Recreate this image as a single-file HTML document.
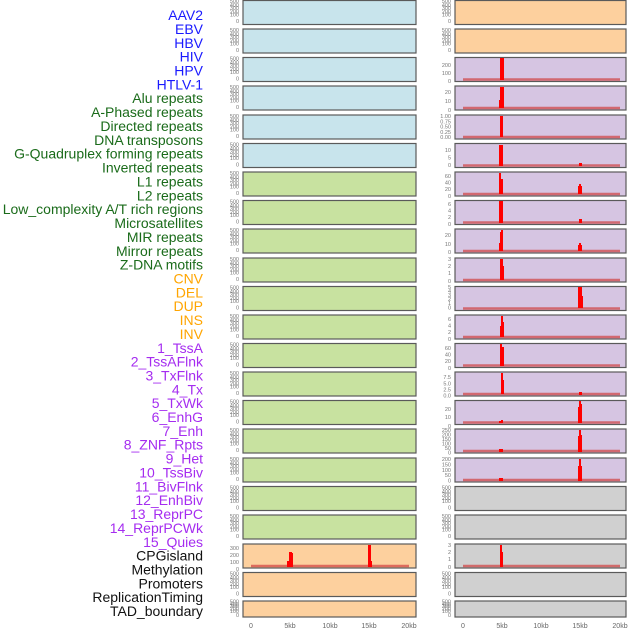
<!DOCTYPE html>
<html><head><meta charset="utf-8"><style>
html,body{margin:0;padding:0;background:#fff}
svg{display:block}
.l{font-family:"Liberation Sans",sans-serif;font-size:14px;text-anchor:end}
.t{font-family:"Liberation Sans",sans-serif;font-size:5.5px;fill:#777;text-anchor:end}
.x{font-family:"Liberation Sans",sans-serif;font-size:7px;fill:#666;text-anchor:middle}
.p{stroke:#5a5a5a;stroke-width:1.2}
.b{fill:#c8e4ec}.g{fill:#c8e2a0}.o{fill:#fdd09e}.u{fill:#d6c5e2}.y{fill:#d0d0d0}
.z{stroke:#d04040;stroke-opacity:.7;stroke-width:2.5}
.s{fill:#ff0000}
</style></head><body>
<svg width="630" height="630" viewBox="0 0 630 630" xmlns="http://www.w3.org/2000/svg">
<g class="l" transform="matrix(1,0,0,1.005,0,0)">
<text x="203" y="20" fill="#1a1aff">AAV2</text>
<text x="203" y="33.8" fill="#1a1aff">EBV</text>
<text x="203" y="47.6" fill="#1a1aff">HBV</text>
<text x="203" y="61.4" fill="#1a1aff">HIV</text>
<text x="203" y="75.2" fill="#1a1aff">HPV</text>
<text x="203" y="89" fill="#1a1aff">HTLV-1</text>
<text x="203" y="102.7" fill="#1a6b1a">Alu repeats</text>
<text x="203" y="116.5" fill="#1a6b1a">A-Phased repeats</text>
<text x="203" y="130.3" fill="#1a6b1a">Directed repeats</text>
<text x="203" y="144.1" fill="#1a6b1a">DNA transposons</text>
<text x="203" y="157.9" fill="#1a6b1a">G-Quadruplex forming repeats</text>
<text x="203" y="171.7" fill="#1a6b1a">Inverted repeats</text>
<text x="203" y="185.5" fill="#1a6b1a">L1 repeats</text>
<text x="203" y="199.3" fill="#1a6b1a">L2 repeats</text>
<text x="203" y="213.1" fill="#1a6b1a">Low_complexity A/T rich regions</text>
<text x="203" y="226.9" fill="#1a6b1a">Microsatellites</text>
<text x="203" y="240.7" fill="#1a6b1a">MIR repeats</text>
<text x="203" y="254.5" fill="#1a6b1a">Mirror repeats</text>
<text x="203" y="268.2" fill="#1a6b1a">Z-DNA motifs</text>
<text x="203" y="282" fill="#ffa500">CNV</text>
<text x="203" y="295.8" fill="#ffa500">DEL</text>
<text x="203" y="309.6" fill="#ffa500">DUP</text>
<text x="203" y="323.4" fill="#ffa500">INS</text>
<text x="203" y="337.2" fill="#ffa500">INV</text>
<text x="203" y="351" fill="#a52cf0">1_TssA</text>
<text x="203" y="364.8" fill="#a52cf0">2_TssAFlnk</text>
<text x="203" y="378.6" fill="#a52cf0">3_TxFlnk</text>
<text x="203" y="392.4" fill="#a52cf0">4_Tx</text>
<text x="203" y="406.2" fill="#a52cf0">5_TxWk</text>
<text x="203" y="420" fill="#a52cf0">6_EnhG</text>
<text x="203" y="433.7" fill="#a52cf0">7_Enh</text>
<text x="203" y="447.5" fill="#a52cf0">8_ZNF_Rpts</text>
<text x="203" y="461.3" fill="#a52cf0">9_Het</text>
<text x="203" y="475.1" fill="#a52cf0">10_TssBiv</text>
<text x="203" y="488.9" fill="#a52cf0">11_BivFlnk</text>
<text x="203" y="502.7" fill="#a52cf0">12_EnhBiv</text>
<text x="203" y="516.5" fill="#a52cf0">13_ReprPC</text>
<text x="203" y="530.3" fill="#a52cf0">14_ReprPCWk</text>
<text x="203" y="544.1" fill="#a52cf0">15_Quies</text>
<text x="203" y="557.9" fill="#111">CPGisland</text>
<text x="203" y="571.7" fill="#111">Methylation</text>
<text x="203" y="585.4" fill="#111">Promoters</text>
<text x="203" y="599.2" fill="#111">ReplicationTiming</text>
<text x="203" y="613" fill="#111">TAD_boundary</text>
</g>

<g class="p">
<rect class="b" x="243" y="0.5" width="173" height="24"/>
<rect class="b" x="243" y="29" width="173" height="24"/>
<rect class="b" x="243" y="57.5" width="173" height="24"/>
<rect class="b" x="243" y="86" width="173" height="24"/>
<rect class="b" x="243" y="115" width="173" height="24"/>
<rect class="b" x="243" y="143.5" width="173" height="24"/>
<rect class="g" x="243" y="172" width="173" height="24"/>
<rect class="g" x="243" y="200.5" width="173" height="24"/>
<rect class="g" x="243" y="229" width="173" height="24"/>
<rect class="g" x="243" y="258" width="173" height="24"/>
<rect class="g" x="243" y="286.5" width="173" height="24"/>
<rect class="g" x="243" y="315" width="173" height="24"/>
<rect class="g" x="243" y="343.5" width="173" height="24"/>
<rect class="g" x="243" y="372" width="173" height="24"/>
<rect class="g" x="243" y="400.5" width="173" height="24"/>
<rect class="g" x="243" y="429" width="173" height="24"/>
<rect class="g" x="243" y="458" width="173" height="24"/>
<rect class="g" x="243" y="486.5" width="173" height="24"/>
<rect class="g" x="243" y="515" width="173" height="24"/>
<rect class="o" x="243" y="544" width="173" height="24"/>
<rect class="o" x="243" y="572.5" width="173" height="24"/>
<rect class="o" x="243" y="601" width="173" height="16"/>
</g>
<g class="p">
<rect class="o" x="455" y="0.5" width="171" height="24"/>
<rect class="o" x="455" y="29" width="171" height="24"/>
<rect class="u" x="455" y="57.5" width="171" height="24"/>
<rect class="u" x="455" y="86" width="171" height="24"/>
<rect class="u" x="455" y="115" width="171" height="24"/>
<rect class="u" x="455" y="143.5" width="171" height="24"/>
<rect class="u" x="455" y="172" width="171" height="24"/>
<rect class="u" x="455" y="200.5" width="171" height="24"/>
<rect class="u" x="455" y="229" width="171" height="24"/>
<rect class="u" x="455" y="258" width="171" height="24"/>
<rect class="u" x="455" y="286.5" width="171" height="24"/>
<rect class="u" x="455" y="315" width="171" height="24"/>
<rect class="u" x="455" y="343.5" width="171" height="24"/>
<rect class="u" x="455" y="372" width="171" height="24"/>
<rect class="u" x="455" y="400.5" width="171" height="24"/>
<rect class="u" x="455" y="429" width="171" height="24"/>
<rect class="u" x="455" y="458" width="171" height="24"/>
<rect class="y" x="455" y="486.5" width="171" height="24"/>
<rect class="y" x="455" y="515" width="171" height="24"/>
<rect class="y" x="455" y="544" width="171" height="24"/>
<rect class="y" x="455" y="572.5" width="171" height="24"/>
<rect class="y" x="455" y="601" width="171" height="16"/>
</g>

<g class="t">
<text x="239" y="3"><tspan x="239" dy="0">500</tspan><tspan x="239" dy="3.8">400</tspan><tspan x="239" dy="3">300</tspan><tspan x="239" dy="3.5">200</tspan><tspan x="239" dy="3">100</tspan><tspan x="239" dy="6.5">0</tspan></text>
<text x="239" y="32"><tspan x="239" dy="0">500</tspan><tspan x="239" dy="3.8">400</tspan><tspan x="239" dy="3">300</tspan><tspan x="239" dy="3.5">200</tspan><tspan x="239" dy="3">100</tspan><tspan x="239" dy="6.5">0</tspan></text>
<text x="239" y="60.5"><tspan x="239" dy="0">500</tspan><tspan x="239" dy="3.8">400</tspan><tspan x="239" dy="3">300</tspan><tspan x="239" dy="3.5">200</tspan><tspan x="239" dy="3">100</tspan><tspan x="239" dy="6.5">0</tspan></text>
<text x="239" y="89"><tspan x="239" dy="0">500</tspan><tspan x="239" dy="3.8">400</tspan><tspan x="239" dy="3">300</tspan><tspan x="239" dy="3.5">200</tspan><tspan x="239" dy="3">100</tspan><tspan x="239" dy="6.5">0</tspan></text>
<text x="239" y="118"><tspan x="239" dy="0">500</tspan><tspan x="239" dy="3.8">400</tspan><tspan x="239" dy="3">300</tspan><tspan x="239" dy="3.5">200</tspan><tspan x="239" dy="3">100</tspan><tspan x="239" dy="6.5">0</tspan></text>
<text x="239" y="146.5"><tspan x="239" dy="0">500</tspan><tspan x="239" dy="3.8">400</tspan><tspan x="239" dy="3">300</tspan><tspan x="239" dy="3.5">200</tspan><tspan x="239" dy="3">100</tspan><tspan x="239" dy="6.5">0</tspan></text>
<text x="239" y="175"><tspan x="239" dy="0">500</tspan><tspan x="239" dy="3.8">400</tspan><tspan x="239" dy="3">300</tspan><tspan x="239" dy="3.5">200</tspan><tspan x="239" dy="3">100</tspan><tspan x="239" dy="6.5">0</tspan></text>
<text x="239" y="203.5"><tspan x="239" dy="0">500</tspan><tspan x="239" dy="3.8">400</tspan><tspan x="239" dy="3">300</tspan><tspan x="239" dy="3.5">200</tspan><tspan x="239" dy="3">100</tspan><tspan x="239" dy="6.5">0</tspan></text>
<text x="239" y="232"><tspan x="239" dy="0">500</tspan><tspan x="239" dy="3.8">400</tspan><tspan x="239" dy="3">300</tspan><tspan x="239" dy="3.5">200</tspan><tspan x="239" dy="3">100</tspan><tspan x="239" dy="6.5">0</tspan></text>
<text x="239" y="261"><tspan x="239" dy="0">500</tspan><tspan x="239" dy="3.8">400</tspan><tspan x="239" dy="3">300</tspan><tspan x="239" dy="3.5">200</tspan><tspan x="239" dy="3">100</tspan><tspan x="239" dy="6.5">0</tspan></text>
<text x="239" y="289.5"><tspan x="239" dy="0">500</tspan><tspan x="239" dy="3.8">400</tspan><tspan x="239" dy="3">300</tspan><tspan x="239" dy="3.5">200</tspan><tspan x="239" dy="3">100</tspan><tspan x="239" dy="6.5">0</tspan></text>
<text x="239" y="318"><tspan x="239" dy="0">500</tspan><tspan x="239" dy="3.8">400</tspan><tspan x="239" dy="3">300</tspan><tspan x="239" dy="3.5">200</tspan><tspan x="239" dy="3">100</tspan><tspan x="239" dy="6.5">0</tspan></text>
<text x="239" y="346.5"><tspan x="239" dy="0">500</tspan><tspan x="239" dy="3.8">400</tspan><tspan x="239" dy="3">300</tspan><tspan x="239" dy="3.5">200</tspan><tspan x="239" dy="3">100</tspan><tspan x="239" dy="6.5">0</tspan></text>
<text x="239" y="375"><tspan x="239" dy="0">500</tspan><tspan x="239" dy="3.8">400</tspan><tspan x="239" dy="3">300</tspan><tspan x="239" dy="3.5">200</tspan><tspan x="239" dy="3">100</tspan><tspan x="239" dy="6.5">0</tspan></text>
<text x="239" y="403.5"><tspan x="239" dy="0">500</tspan><tspan x="239" dy="3.8">400</tspan><tspan x="239" dy="3">300</tspan><tspan x="239" dy="3.5">200</tspan><tspan x="239" dy="3">100</tspan><tspan x="239" dy="6.5">0</tspan></text>
<text x="239" y="432"><tspan x="239" dy="0">500</tspan><tspan x="239" dy="3.8">400</tspan><tspan x="239" dy="3">300</tspan><tspan x="239" dy="3.5">200</tspan><tspan x="239" dy="3">100</tspan><tspan x="239" dy="6.5">0</tspan></text>
<text x="239" y="461"><tspan x="239" dy="0">500</tspan><tspan x="239" dy="3.8">400</tspan><tspan x="239" dy="3">300</tspan><tspan x="239" dy="3.5">200</tspan><tspan x="239" dy="3">100</tspan><tspan x="239" dy="6.5">0</tspan></text>
<text x="239" y="489.5"><tspan x="239" dy="0">500</tspan><tspan x="239" dy="3.8">400</tspan><tspan x="239" dy="3">300</tspan><tspan x="239" dy="3.5">200</tspan><tspan x="239" dy="3">100</tspan><tspan x="239" dy="6.5">0</tspan></text>
<text x="239" y="518"><tspan x="239" dy="0">500</tspan><tspan x="239" dy="3.8">400</tspan><tspan x="239" dy="3">300</tspan><tspan x="239" dy="3.5">200</tspan><tspan x="239" dy="3">100</tspan><tspan x="239" dy="6.5">0</tspan></text>
<text x="239" y="550"><tspan x="239" dy="0">300</tspan><tspan x="239" dy="7">200</tspan><tspan x="239" dy="7">100</tspan><tspan x="239" dy="7">0</tspan></text>
<text x="239" y="575.5"><tspan x="239" dy="0">500</tspan><tspan x="239" dy="3.8">400</tspan><tspan x="239" dy="3">300</tspan><tspan x="239" dy="3.5">200</tspan><tspan x="239" dy="3">100</tspan><tspan x="239" dy="6.5">0</tspan></text>
<text x="239" y="603.5"><tspan x="239" dy="0">500</tspan><tspan x="239" dy="2.5">400</tspan><tspan x="239" dy="2">300</tspan><tspan x="239" dy="2.5">200</tspan><tspan x="239" dy="2.5">100</tspan><tspan x="239" dy="4">0</tspan></text>
</g>
<g class="t">
<text x="451" y="3"><tspan x="451" dy="0">500</tspan><tspan x="451" dy="3.8">400</tspan><tspan x="451" dy="3">300</tspan><tspan x="451" dy="3.5">200</tspan><tspan x="451" dy="3">100</tspan><tspan x="451" dy="6.5">0</tspan></text>
<text x="451" y="32"><tspan x="451" dy="0">500</tspan><tspan x="451" dy="3.8">400</tspan><tspan x="451" dy="3">300</tspan><tspan x="451" dy="3.5">200</tspan><tspan x="451" dy="3">100</tspan><tspan x="451" dy="6.5">0</tspan></text>
<text x="451" y="67"><tspan x="451" dy="0">200</tspan><tspan x="451" dy="8">100</tspan><tspan x="451" dy="8">0</tspan></text>
<text x="451" y="94"><tspan x="451" dy="0">20</tspan><tspan x="451" dy="9">10</tspan><tspan x="451" dy="9">0</tspan></text>
<text x="451" y="118"><tspan x="451" dy="0">1.00</tspan><tspan x="451" dy="5.3">0.75</tspan><tspan x="451" dy="5.3">0.50</tspan><tspan x="451" dy="5.3">0.25</tspan><tspan x="451" dy="5.3">0.00</tspan></text>
<text x="451" y="152"><tspan x="451" dy="0">10</tspan><tspan x="451" dy="7.5">5</tspan><tspan x="451" dy="7.5">0</tspan></text>
<text x="451" y="178"><tspan x="451" dy="0">60</tspan><tspan x="451" dy="6.5">40</tspan><tspan x="451" dy="6.5">20</tspan><tspan x="451" dy="7">0</tspan></text>
<text x="451" y="206"><tspan x="451" dy="0">6</tspan><tspan x="451" dy="6.5">4</tspan><tspan x="451" dy="6.5">2</tspan><tspan x="451" dy="7">0</tspan></text>
<text x="451" y="237"><tspan x="451" dy="0">20</tspan><tspan x="451" dy="9">10</tspan><tspan x="451" dy="8">0</tspan></text>
<text x="451" y="261"><tspan x="451" dy="0">3</tspan><tspan x="451" dy="7">2</tspan><tspan x="451" dy="7">1</tspan><tspan x="451" dy="8">0</tspan></text>
<text x="451" y="289"><tspan x="451" dy="0">5</tspan><tspan x="451" dy="4">4</tspan><tspan x="451" dy="4">3</tspan><tspan x="451" dy="4">2</tspan><tspan x="451" dy="4">1</tspan><tspan x="451" dy="4.5">0</tspan></text>
<text x="451" y="321"><tspan x="451" dy="0">6</tspan><tspan x="451" dy="6.5">4</tspan><tspan x="451" dy="6.5">2</tspan><tspan x="451" dy="7">0</tspan></text>
<text x="451" y="350"><tspan x="451" dy="0">60</tspan><tspan x="451" dy="6.5">40</tspan><tspan x="451" dy="6.5">20</tspan><tspan x="451" dy="7">0</tspan></text>
<text x="451" y="379"><tspan x="451" dy="0">7.5</tspan><tspan x="451" dy="6.5">5.0</tspan><tspan x="451" dy="6">2.5</tspan><tspan x="451" dy="6">0.0</tspan></text>
<text x="451" y="411"><tspan x="451" dy="0">20</tspan><tspan x="451" dy="8">10</tspan><tspan x="451" dy="9">0</tspan></text>
<text x="451" y="432"><tspan x="451" dy="0">250</tspan><tspan x="451" dy="4.5">200</tspan><tspan x="451" dy="4.5">150</tspan><tspan x="451" dy="4.5">100</tspan><tspan x="451" dy="4.5">50</tspan><tspan x="451" dy="4.5">0</tspan></text>
<text x="451" y="461"><tspan x="451" dy="0">200</tspan><tspan x="451" dy="5.5">150</tspan><tspan x="451" dy="5.5">100</tspan><tspan x="451" dy="5">50</tspan><tspan x="451" dy="5.5">0</tspan></text>
<text x="451" y="489.5"><tspan x="451" dy="0">500</tspan><tspan x="451" dy="3.8">400</tspan><tspan x="451" dy="3">300</tspan><tspan x="451" dy="3.5">200</tspan><tspan x="451" dy="3">100</tspan><tspan x="451" dy="6.5">0</tspan></text>
<text x="451" y="518"><tspan x="451" dy="0">500</tspan><tspan x="451" dy="3.8">400</tspan><tspan x="451" dy="3">300</tspan><tspan x="451" dy="3.5">200</tspan><tspan x="451" dy="3">100</tspan><tspan x="451" dy="6.5">0</tspan></text>
<text x="451" y="547"><tspan x="451" dy="0">3</tspan><tspan x="451" dy="7">2</tspan><tspan x="451" dy="7">1</tspan><tspan x="451" dy="8">0</tspan></text>
<text x="451" y="575.5"><tspan x="451" dy="0">500</tspan><tspan x="451" dy="3.8">400</tspan><tspan x="451" dy="3">300</tspan><tspan x="451" dy="3.5">200</tspan><tspan x="451" dy="3">100</tspan><tspan x="451" dy="6.5">0</tspan></text>
<text x="451" y="603.5"><tspan x="451" dy="0">500</tspan><tspan x="451" dy="2.5">400</tspan><tspan x="451" dy="2">300</tspan><tspan x="451" dy="2.5">200</tspan><tspan x="451" dy="2.5">100</tspan><tspan x="451" dy="4">0</tspan></text>
</g>

<g class="z">
<line x1="463" x2="620" y1="79.5" y2="79.5"/>
<line x1="463" x2="620" y1="108" y2="108"/>
<line x1="463" x2="620" y1="137" y2="137"/>
<line x1="463" x2="620" y1="165.5" y2="165.5"/>
<line x1="463" x2="620" y1="194" y2="194"/>
<line x1="463" x2="620" y1="222.5" y2="222.5"/>
<line x1="463" x2="620" y1="251" y2="251"/>
<line x1="463" x2="620" y1="280" y2="280"/>
<line x1="463" x2="620" y1="308.5" y2="308.5"/>
<line x1="463" x2="620" y1="337" y2="337"/>
<line x1="463" x2="620" y1="365.5" y2="365.5"/>
<line x1="463" x2="620" y1="394" y2="394"/>
<line x1="463" x2="620" y1="422.5" y2="422.5"/>
<line x1="463" x2="620" y1="451" y2="451"/>
<line x1="463" x2="620" y1="480" y2="480"/>
<line x1="463" x2="620" y1="566" y2="566"/>
<line x1="251" x2="409" y1="566" y2="566"/>
</g>

<g class="s">
<rect x="500" y="58" width="4" height="22"/>
<rect x="500" y="87" width="4" height="21"/><rect x="499" y="100" width="2" height="8"/>
<rect x="500" y="116" width="3" height="21"/>
<rect x="499" y="145" width="4" height="21"/><rect x="579" y="163" width="3" height="3"/>
<rect x="499" y="173" width="2" height="21"/><rect x="500" y="179" width="3" height="15"/><rect x="578" y="186" width="4" height="8"/><rect x="579" y="184" width="2" height="3"/>
<rect x="499" y="201" width="4" height="22"/><rect x="579" y="219" width="3" height="4"/>
<rect x="499" y="243" width="2" height="8"/><rect x="500" y="232" width="2" height="19"/><rect x="501" y="230" width="2" height="21"/><rect x="578" y="245" width="4" height="6"/><rect x="579" y="243" width="2" height="3"/>
<rect x="500" y="259" width="3" height="21"/><rect x="502" y="266" width="2" height="14"/>
<rect x="578" y="287" width="4" height="21"/><rect x="581" y="296" width="2" height="12"/>
<rect x="500" y="326" width="2" height="11"/><rect x="501" y="316" width="2" height="21"/><rect x="502" y="322" width="2" height="15"/>
<rect x="500" y="344" width="2" height="22"/><rect x="501" y="347" width="3" height="19"/><rect x="502" y="353" width="2" height="13"/>
<rect x="501" y="373" width="2" height="21"/><rect x="502" y="380" width="2" height="14"/><rect x="579" y="392" width="3" height="3"/>
<rect x="499" y="421" width="4" height="2"/><rect x="501" y="420" width="2" height="3"/><rect x="578" y="407" width="4" height="16"/><rect x="579" y="401" width="2" height="22"/><rect x="580" y="404" width="2" height="19"/>
<rect x="499" y="449" width="4" height="3"/><rect x="578" y="436" width="4" height="16"/><rect x="579" y="430" width="2" height="22"/><rect x="580" y="435" width="2" height="17"/>
<rect x="499" y="478" width="4" height="3"/><rect x="578" y="466" width="4" height="15"/><rect x="579" y="459" width="2" height="22"/><rect x="580" y="467" width="2" height="14"/>
<rect x="500" y="545" width="2" height="22"/><rect x="501" y="552" width="2" height="15"/>
<rect x="287" y="561" width="3" height="6"/><rect x="289" y="552" width="3" height="15"/><rect x="291" y="553" width="2" height="14"/>
<rect x="368" y="545" width="3" height="22"/><rect x="370" y="561" width="2" height="6"/>
</g>

<g class="x">
<text x="251" y="628">0</text><text x="290" y="628">5kb</text><text x="330" y="628">10kb</text><text x="369" y="628">15kb</text><text x="409" y="628">20kb</text>
<text x="463" y="628">0</text><text x="502" y="628">5kb</text><text x="541" y="628">10kb</text><text x="580" y="628">15kb</text><text x="620" y="628">20kb</text>
</g>
</svg>
</body></html>
